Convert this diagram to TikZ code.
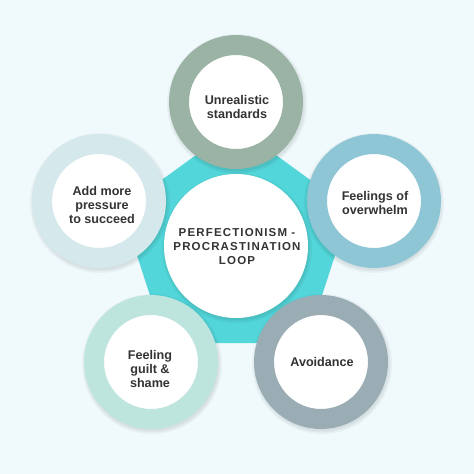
\documentclass[tikz,border=0pt]{standalone}
\usepackage{fontspec}
\setmainfont{Liberation Sans}
\newfontfamily\capsfont[LetterSpace=10]{Liberation Sans}
\usetikzlibrary{shapes.geometric}
\definecolor{bg}{HTML}{F0FAFC}
\definecolor{pentcol}{HTML}{52D6D9}
\definecolor{ctop}{HTML}{9BB3A4}
\definecolor{cright}{HTML}{8FC6D6}
\definecolor{cbr}{HTML}{9BADB4}
\definecolor{cbl}{HTML}{BEE5DD}
\definecolor{cleft}{HTML}{D5E8EC}
\definecolor{txt}{HTML}{333333}
\tikzset{
  ring/.style={circle, fill=white, line width=20pt, minimum size=114pt, inner sep=0pt},
  hubstyle/.style={circle, fill=white, minimum size=144pt, inner sep=0pt},
  lbl/.style={align=center, text=txt, inner sep=0pt, font=\bfseries\fontsize{12.6}{13.6}\selectfont},
  hublbl/.style={align=center, text=txt, inner sep=0pt, font=\capsfont\bfseries\fontsize{11.5}{14}\selectfont},
  shade1/.style={fill=black, opacity=0.035}
}
\begin{document}
\begin{tikzpicture}[x=1pt,y=-1pt]
\fill[bg] (0,0) rectangle (474,474);
\useasboundingbox (0,0) rectangle (474,474);
% pentagon
\node[regular polygon, regular polygon sides=5, minimum size=240pt, fill=pentcol, inner sep=0pt] (pent) at (236,246) {};
% soft shadows
\foreach \x/\y/\r in {236/102/67, 99/201/67, 373/201/67, 321/362/67, 151/362/67, 236/246/72}{
  \fill[shade1] (\x+1,\y+2) circle (\r+3);
  \fill[shade1] (\x+1,\y+2) circle (\r+1.5);
  \fill[shade1] (\x+1,\y+2) circle (\r);
}
% rings
\node[ring, draw=ctop]   (top)   at (236,102) {};
\node[ring, draw=cleft]  (left)  at (99,201)  {};
\node[ring, draw=cright] (right) at (374,201) {};
\node[ring, draw=cbr]    (br)    at (321,362) {};
\node[ring, draw=cbl]    (bl)    at (151,362) {};
% hub
\node[hubstyle] (hub) at (236,246) {};
% labels
\node[lbl] (ttop)   at (237,107) {Unrealistic\\standards};
\node[lbl] (tleft)  at (102,205) {Add more\\pressure\\to succeed};
\node[lbl] (tright) at (375,203) {Feelings of\\overwhelm};
\node[lbl] (tbr)    at (322,362) {Avoidance};
\node[lbl] (tbl)    at (150,369) {Feeling\\guilt \&\\shame};
\node[hublbl] (thub) at (237,247) {PERFECTIONISM -\\PROCRASTINATION\\LOOP};
\end{tikzpicture}
\end{document}
